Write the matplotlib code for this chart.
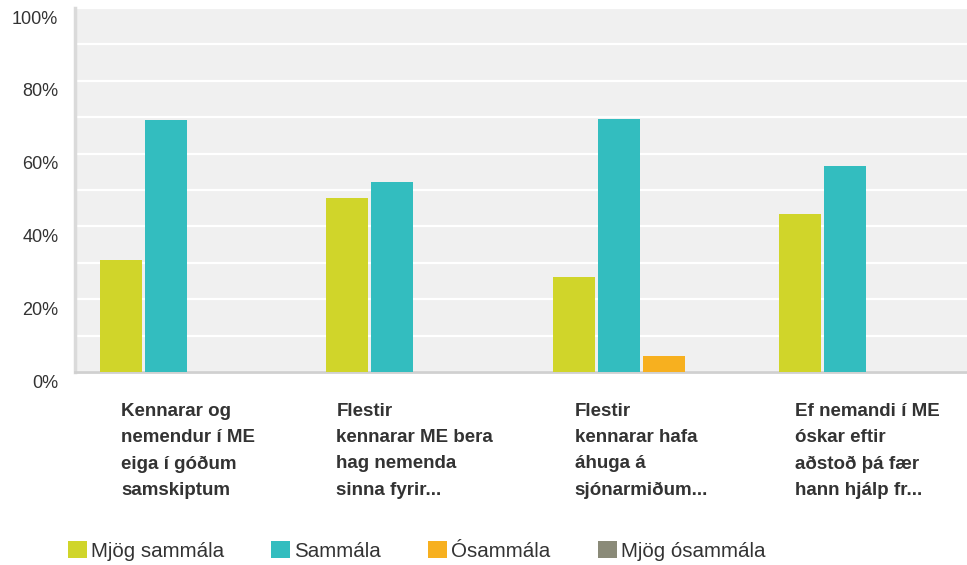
import numpy as np
import matplotlib
matplotlib.use('Agg')
import matplotlib.pyplot as plt
from matplotlib.patches import Patch
from matplotlib.transforms import ScaledTranslation

plt.rcParams['font.family'] = ['Liberation Sans', 'DejaVu Sans']

categories = ['Kennarar og\nnemendur í ME\neiga í góðum\nsamskiptum',
              'Flestir\nkennarar ME bera\nhag nemenda\nsinna fyrir...',
              'Flestir\nkennarar hafa\náhuga á\nsjónarmiðum...',
              'Ef nemandi í ME\nóskar eftir\naðstoð þá fær\nhann hjálp fr...']
series_names = ['Mjög sammála', 'Sammála', 'Ósammála', 'Mjög ósammála']
mjog_sammala = [30.8, 47.8, 26.1, 43.5]
sammala = [69.2, 52.2, 69.6, 56.5]
osammala = [0, 0, 4.3, 0]
mjog_osammala = [0, 0, 0, 0]
colors = ['#d0d52a', '#33bdbf', '#f7b01f', '#8a8a78']

fig = plt.figure(figsize=(9.67, 5.65), dpi=100)
ax = fig.add_axes([75/967, 1 - 372/565, 1 - 75/967, 364/565])
ax.set_facecolor('#f0f0f0')

x = np.arange(len(categories))
slot = 45/226.7
width = 42/226.7
all_series = [mjog_sammala, sammala, osammala, mjog_osammala]
for j, vals in enumerate(all_series):
    ax.bar(x + (j - 1.5)*slot, vals, width, color=colors[j], zorder=3)

ax.set_xlim(-0.5, 3.5 - 14/226.7)
ax.set_ylim(0, 100)
ax.set_yticks(np.arange(0, 101, 20))
ax.set_yticks(np.arange(10, 100, 20), minor=True)
ax.set_yticklabels([f'{v}%' for v in range(0, 101, 20)], fontsize=13, color='#333333')
ax.grid(axis='y', which='both', color='white', linewidth=1.6, zorder=1)
ax.tick_params(axis='y', which='both', length=0, pad=12)
for lab in ax.get_yticklabels():
    lab.set_transform(lab.get_transform() + ScaledTranslation(0, -9/100, fig.dpi_scale_trans))

ax.set_xticks(x)
ax.set_xticklabels(categories, fontsize=13.5, fontweight='bold', color='#333333',
                   ha='center', multialignment='left', linespacing=1.72)
ax.tick_params(axis='x', length=0, pad=22)

for s in ['top', 'right']:
    ax.spines[s].set_visible(False)
ax.spines['left'].set_color('#dadada')
ax.spines['left'].set_linewidth(2.5)
ax.spines['bottom'].set_color('#d0d0d0')
ax.spines['bottom'].set_linewidth(2)

handles = [Patch(facecolor=c, edgecolor='none') for c in colors]
fig.legend(handles, series_names, loc='center left', bbox_to_anchor=(68/967, 1 - 551/565),
           ncol=4, frameon=False, fontsize=14.8, handlelength=0.9, handleheight=0.9,
           handletextpad=0.22, columnspacing=2.3, borderpad=0, borderaxespad=0,
           labelcolor='#333333')

fig.savefig('out.png', dpi=100)
